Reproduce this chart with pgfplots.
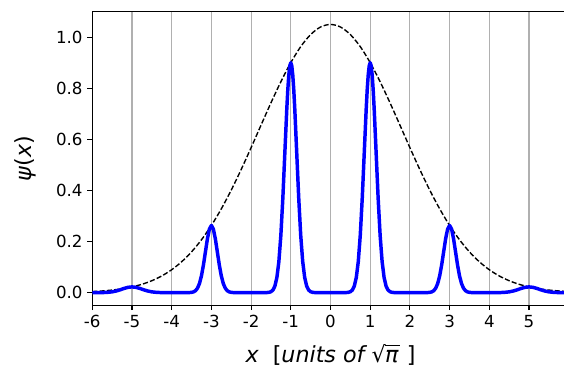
\documentclass[border=0pt]{standalone}
\usepackage{fontspec}
\setmainfont{DejaVu Sans}
\usepackage{pgfplots}
\pgfplotsset{compat=1.18}
\definecolor{gridgray}{HTML}{B0B0B0}
\begin{document}
\begin{tikzpicture}
\begin{axis}[
  name=ax,
  scale only axis,
  width=343.4pt, height=211.7pt,
  xmin=-6, xmax=6, ymin=-0.05, ymax=1.10,
  xtick={-6,-5,-4,-3,-2,-1,0,1,2,3,4,5,6},
  xticklabels={-6,-5,-4,-3,-2,-1,0,1,2,3,4,5,6},
  ytick={0,0.2,0.4,0.6,0.8,1.0},
  yticklabels={0.0,0.2,0.4,0.6,0.8,1.0},
  xmajorgrids,
  major grid style={color=gridgray, line width=0.8pt},
  tick align=outside,
  xtick pos=lower, ytick pos=left,
  major tick length=3.5pt,
  tick style={black, line width=0.8pt},
  axis line style={line width=0.8pt},
  tick label style={font=\fontsize{12}{14}\selectfont},
  xlabel={\itshape x\ \ \upshape[\itshape units of\ \upshape√\kern-0.02em\vbox{\hrule height 0.055em\kern0.16em\hbox{\itshape π\kern0.05em}}\ \upshape]},
  ylabel={\itshape ψ\upshape(\itshape x\upshape)},
  label style={font=\fontsize{16}{19}\selectfont},
  xlabel style={at={(axis description cs:0.5,0)}, anchor=center, yshift=-35.5pt},
  ylabel style={at={(axis description cs:-0.1412,0.5)}, anchor=center},
  clip=true,
]
\addplot[black, line width=1pt, dash pattern=on 3.7pt off 1.6pt, smooth] coordinates {
(-6,0.0041) (-5.75,0.0065) (-5.5,0.0100) (-5.25,0.0151) (-5,0.0224) (-4.75,0.0326)
(-4.5,0.0466) (-4.25,0.0652) (-4,0.0896) (-3.75,0.1207) (-3.5,0.1595) (-3.25,0.2068)
(-3,0.2630) (-2.75,0.3280) (-2.5,0.4014) (-2.25,0.4819) (-2,0.5675) (-1.75,0.6555)
(-1.5,0.7428) (-1.25,0.8256) (-1,0.9003) (-0.75,0.9630) (-0.5,1.0104) (-0.25,1.0400)
(0,1.0500)
(0.25,1.0400) (0.5,1.0104) (0.75,0.9630) (1,0.9003) (1.25,0.8256) (1.5,0.7428)
(1.75,0.6555) (2,0.5675) (2.25,0.4819) (2.5,0.4014) (2.75,0.3280) (3,0.2630)
(3.25,0.2068) (3.5,0.1595) (3.75,0.1207) (4,0.0896) (4.25,0.0652) (4.5,0.0466)
(4.75,0.0326) (5,0.0224) (5.25,0.0151) (5.5,0.0100) (5.75,0.0065) (6,0.0041)
};
\addplot[blue, line width=2.5pt, line join=round] coordinates {
(-6.0,0) (-5.8,0) (-5.7,0.0004) (-5.6,0.0013) (-5.5,0.0030) (-5.4,0.0062) (-5.3,0.0109)
(-5.2,0.0163) (-5.1,0.0207) (-5.0,0.0224) (-4.9,0.0207) (-4.8,0.0163) (-4.7,0.0109)
(-4.6,0.0062) (-4.5,0.0030) (-4.4,0.0013) (-4.3,0.0004) (-4.2,0)
(-3.65,0) (-3.6,0.0001) (-3.55,0.0003) (-3.5,0.0010) (-3.45,0.0029) (-3.4,0.0075)
(-3.35,0.0173) (-3.3,0.0356) (-3.25,0.0656) (-3.2,0.1081) (-3.15,0.1595) (-3.1,0.2106)
(-3.05,0.2488) (-3.0,0.2630) (-2.95,0.2488) (-2.9,0.2106) (-2.85,0.1595) (-2.8,0.1081)
(-2.75,0.0656) (-2.7,0.0356) (-2.65,0.0173) (-2.6,0.0075) (-2.55,0.0029) (-2.5,0.0010)
(-2.45,0.0003) (-2.4,0.0001) (-2.35,0)
(-1.65,0) (-1.6,0.0003) (-1.55,0.0011) (-1.5,0.0035) (-1.45,0.0100) (-1.4,0.0257)
(-1.35,0.0592) (-1.3,0.1218) (-1.25,0.2245) (-1.2,0.3701) (-1.15,0.5460) (-1.1,0.7209)
(-1.075,0.7945) (-1.05,0.8516) (-1.025,0.8879) (-1.0,0.9003) (-0.975,0.8879) (-0.95,0.8516)
(-0.925,0.7945) (-0.9,0.7209) (-0.85,0.5460) (-0.8,0.3701) (-0.75,0.2245) (-0.7,0.1218)
(-0.65,0.0592) (-0.6,0.0257) (-0.55,0.0100) (-0.5,0.0035) (-0.45,0.0011) (-0.4,0.0003)
(-0.35,0)
(0.35,0) (0.4,0.0003) (0.45,0.0011) (0.5,0.0035) (0.55,0.0100) (0.6,0.0257)
(0.65,0.0592) (0.7,0.1218) (0.75,0.2245) (0.8,0.3701) (0.85,0.5460) (0.9,0.7209)
(0.925,0.7945) (0.95,0.8516) (0.975,0.8879) (1.0,0.9003) (1.025,0.8879) (1.05,0.8516)
(1.075,0.7945) (1.1,0.7209) (1.15,0.5460) (1.2,0.3701) (1.25,0.2245) (1.3,0.1218)
(1.35,0.0592) (1.4,0.0257) (1.45,0.0100) (1.5,0.0035) (1.55,0.0011) (1.6,0.0003)
(1.65,0)
(2.35,0) (2.4,0.0001) (2.45,0.0003) (2.5,0.0010) (2.55,0.0029) (2.6,0.0075)
(2.65,0.0173) (2.7,0.0356) (2.75,0.0656) (2.8,0.1081) (2.85,0.1595) (2.9,0.2106)
(2.95,0.2488) (3.0,0.2630) (3.05,0.2488) (3.1,0.2106) (3.15,0.1595) (3.2,0.1081)
(3.25,0.0656) (3.3,0.0356) (3.35,0.0173) (3.4,0.0075) (3.45,0.0029) (3.5,0.0010)
(3.55,0.0003) (3.6,0.0001) (3.65,0)
(4.2,0) (4.3,0.0004) (4.4,0.0013) (4.5,0.0030) (4.6,0.0062) (4.7,0.0109) (4.8,0.0163)
(4.9,0.0207) (5.0,0.0224) (5.1,0.0207) (5.2,0.0163) (5.3,0.0109) (5.4,0.0062)
(5.5,0.0030) (5.6,0.0013) (5.7,0.0004) (5.8,0) (6.0,0)
};
\end{axis}
\pgfresetboundingbox
\path[use as bounding box] ([xshift=-66.5pt,yshift=-43.9pt]ax.south west) rectangle ([xshift=-3.4pt,yshift=8.4pt]ax.north east);
\end{tikzpicture}
\end{document}
